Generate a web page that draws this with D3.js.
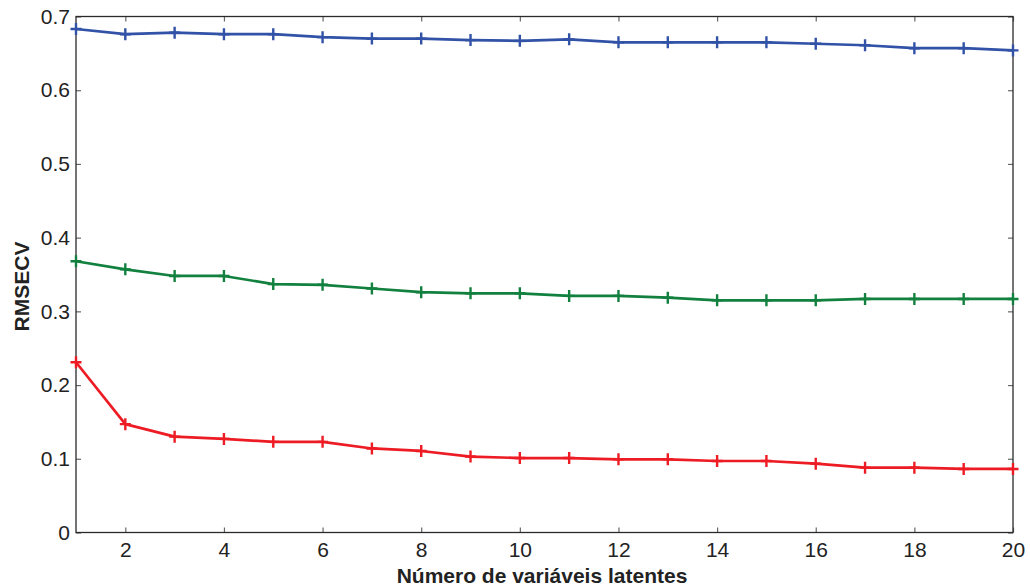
<!DOCTYPE html>
<html>
<head>
<meta charset="utf-8">
<script src="https://cdn.jsdelivr.net/npm/d3@7"></script>
<style>
  html, body { margin: 0; padding: 0; background: #fff; }
  svg { display: block; font-family: "Liberation Sans", Arial, sans-serif; }
</style>
</head>
<body>
<svg id="chart" width="1030" height="588"></svg>
<script>
// Number of latent variables (x) and RMSECV for three models
const latentVars = d3.range(1, 21);
const rmsecvBlue  = [0.683, 0.676, 0.678, 0.676, 0.676, 0.672, 0.670, 0.670, 0.668, 0.667,
                     0.669, 0.665, 0.665, 0.665, 0.665, 0.663, 0.661, 0.657, 0.657, 0.654];
const rmsecvGreen = [0.368, 0.357, 0.348, 0.348, 0.337, 0.336, 0.331, 0.326, 0.3245, 0.3245,
                     0.321, 0.321, 0.3186, 0.315, 0.315, 0.315, 0.3168, 0.3168, 0.3168, 0.3168];
const rmsecvRed   = [0.231, 0.147, 0.130, 0.127, 0.123, 0.123, 0.114, 0.1106, 0.103, 0.101,
                     0.101, 0.0993, 0.0993, 0.097, 0.097, 0.0934, 0.088, 0.088, 0.0862, 0.0862];
const xTicks = [2, 4, 6, 8, 10, 12, 14, 16, 18, 20];
const yTicks = [0, 0.1, 0.2, 0.3, 0.4, 0.5, 0.6, 0.7];

const series = [
  { values: rmsecvBlue,  color: "#3152a6" },
  { values: rmsecvGreen, color: "#12803e" },
  { values: rmsecvRed,   color: "#ed1c24" }
];

const margin = { left: 76, right: 17, top: 16.5, bottom: 55.5 };
const W = 1030, H = 588;
const fontSize = "21px";
const svg = d3.select("#chart");

const x = d3.scaleLinear().domain([1, 20]).range([margin.left, W - margin.right]);
const y = d3.scaleLinear().domain([0, 0.7]).range([H - margin.bottom, margin.top]);

const tickLen = 5;
const tickColor = "#666";

// Axes: ticks point inward, mirrored on top and right
const gBottom = svg.append("g").attr("transform", `translate(0,${y(0)})`)
  .call(d3.axisBottom(x).tickValues(xTicks).tickFormat(d3.format("d")).tickSizeInner(-tickLen).tickSizeOuter(0).tickPadding(10));
const gTop = svg.append("g").attr("transform", `translate(0,${y(0.7)})`)
  .call(d3.axisTop(x).tickValues(xTicks).tickFormat("").tickSizeInner(-tickLen).tickSizeOuter(0));
const gLeft = svg.append("g").attr("transform", `translate(${x(1)},0)`)
  .call(d3.axisLeft(y).tickValues(yTicks).tickFormat(d => d === 0 ? "0" : d3.format(".1f")(d)).tickSizeInner(-tickLen).tickSizeOuter(0).tickPadding(6));
const gRight = svg.append("g").attr("transform", `translate(${x(20)},0)`)
  .call(d3.axisRight(y).tickValues(yTicks).tickFormat("").tickSizeInner(-tickLen).tickSizeOuter(0));

[gBottom, gTop, gLeft, gRight].forEach(g => {
  g.select(".domain").remove();
  g.selectAll(".tick line").attr("stroke", tickColor).attr("stroke-width", 1.2);
  g.selectAll(".tick text").attr("fill", "#222").style("font-size", fontSize)
    .style("font-family", "'Liberation Sans', Arial, sans-serif");
});

// Plot box
svg.append("rect")
  .attr("x", x(1)).attr("y", y(0.7))
  .attr("width", x(20) - x(1)).attr("height", y(0) - y(0.7))
  .attr("fill", "none").attr("stroke", "#2a2a2a").attr("stroke-width", 1.3);

// Lines with plus markers
const line = d3.line().x((d, i) => x(latentVars[i])).y(d => y(d));
const m = 5.5;
series.forEach(s => {
  svg.append("path")
    .datum(s.values)
    .attr("d", line)
    .attr("fill", "none")
    .attr("stroke", s.color)
    .attr("stroke-width", 2.7)
    .attr("stroke-linejoin", "round");
  svg.append("g").selectAll("path.plus")
    .data(s.values)
    .join("path")
    .attr("class", "plus")
    .attr("d", (d, i) => {
      const cx = x(latentVars[i]), cy = y(d);
      return `M${cx - m},${cy}H${cx + m}M${cx},${cy - m - 0.5}V${cy + m + 0.5}`;
    })
    .attr("stroke", s.color)
    .attr("stroke-width", 2.4)
    .attr("fill", "none");
});

// Axis titles
svg.append("text")
  .attr("x", 542)
  .attr("y", 583)
  .attr("text-anchor", "middle")
  .style("font-size", fontSize)
  .style("font-weight", "bold")
  .attr("fill", "#222")
  .text("Número de variáveis latentes");

svg.append("text")
  .attr("transform", `translate(29,${(y(0) + y(0.7)) / 2 + 12}) rotate(-90)`)
  .attr("text-anchor", "middle")
  .style("font-size", fontSize)
  .style("font-weight", "bold")
  .attr("fill", "#222")
  .text("RMSECV");
</script>
</body>
</html>
